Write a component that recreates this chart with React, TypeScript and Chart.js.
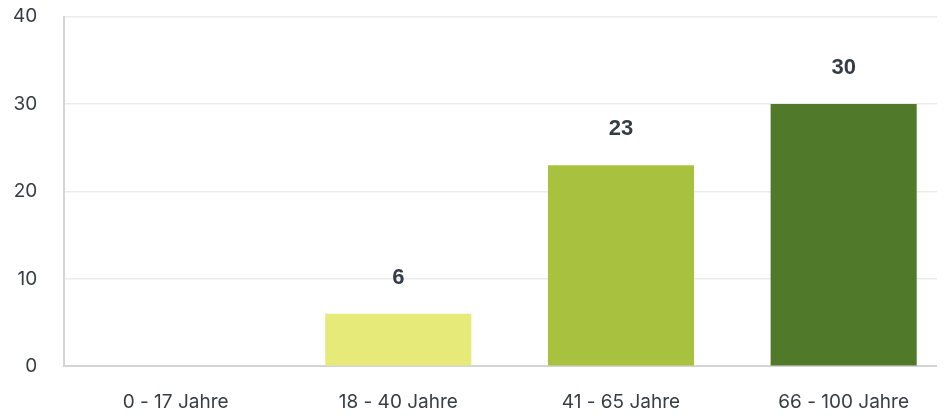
import React, { useEffect, useRef } from "react";
import { Chart, registerables } from "chart.js";

Chart.register(...registerables);

const categories = ["0 - 17 Jahre", "18 - 40 Jahre", "41 - 65 Jahre", "66 - 100 Jahre"];
const values = [0, 6, 23, 30];
const barColors = ["#e6ea78", "#e6ea78", "#a8c23f", "#507a2a"];
const yTicks = [0, 10, 20, 30, 40];

const FONT = "Inter, 'Open Sans', sans-serif";
const LABEL_FONT = "'Liberation Sans', Arial, sans-serif";

const valueLabelPlugin = {
  id: "valueLabels",
  afterDatasetsDraw(chart: any) {
    const ctx = chart.ctx;
    const meta = chart.getDatasetMeta(0);
    ctx.save();
    ctx.font = `bold 22px ${LABEL_FONT}`;
    ctx.fillStyle = "#343c47";
    ctx.textAlign = "center";
    ctx.textBaseline = "alphabetic";
    meta.data.forEach((bar: any, i: number) => {
      const v = values[i];
      if (!v) return;
      ctx.fillText(String(v), bar.x, bar.y - 30);
    });
    ctx.restore();
  },
};

export default function App() {
  const ref = useRef<HTMLCanvasElement | null>(null);
  useEffect(() => {
    document.body.style.overflow = "hidden";
    const chart = new Chart(ref.current!, {
      type: "bar",
      data: {
        labels: categories,
        datasets: [
          {
            data: values,
            backgroundColor: barColors,
            barPercentage: 0.82,
            categoryPercentage: 0.8,
          },
        ],
      },
      options: {
        animation: false,
        responsive: false,
        maintainAspectRatio: false,
        layout: { padding: { top: 0, right: 3, bottom: 0, left: 5 } },
        plugins: { legend: { display: false }, tooltip: { enabled: false } },
        scales: {
          x: {
            grid: {
              display: true,
              drawOnChartArea: false,
              drawTicks: true,
              tickLength: 25,
              tickColor: "rgba(0,0,0,0)",
            },
            border: { display: true, color: "#d4d4d4", width: 2 },
            ticks: { color: "#363d45", font: { family: FONT, size: 19 }, padding: 0 },
          },
          y: {
            min: yTicks[0],
            max: yTicks[yTicks.length - 1],
            afterBuildTicks: (axis: any) => {
              axis.ticks = yTicks.map((v) => ({ value: v }));
            },
            grid: {
              color: "#ececec",
              lineWidth: 1.5,
              drawTicks: true,
              tickLength: 27,
              tickColor: "rgba(0,0,0,0)",
            },
            border: { display: true, color: "#d4d4d4", width: 2 },
            ticks: {
              color: "#363d45",
              font: { family: FONT, size: 19, lineHeight: 0.9 },
              padding: 0,
            },
          },
        },
      },
      plugins: [valueLabelPlugin],
    });
    return () => chart.destroy();
  }, []);
  return (
    <div style={{ width: 950, height: 406 }}>
      <canvas ref={ref} width={950} height={406} style={{ width: 950, height: 406, display: "block" }} />
    </div>
  );
}
